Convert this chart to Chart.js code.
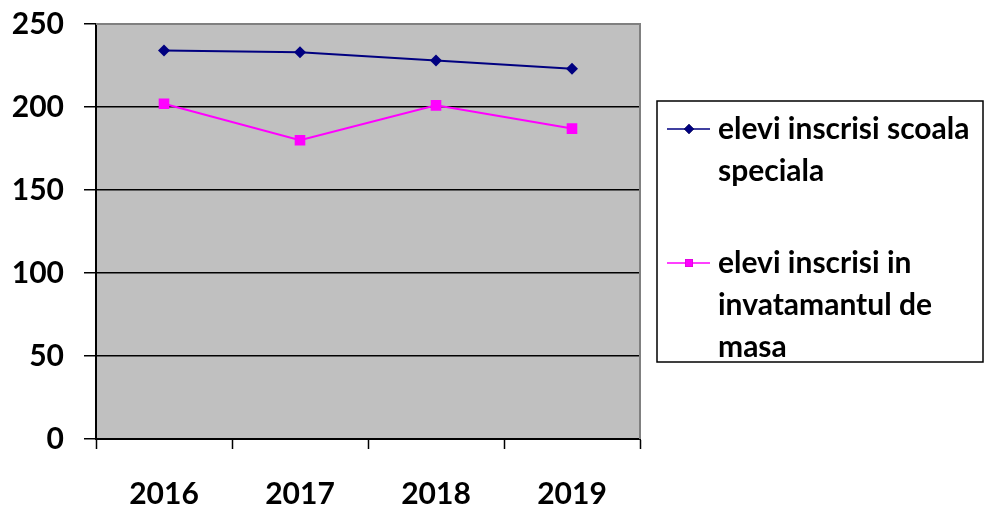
<!DOCTYPE html>
<html>
<head>
<meta charset="utf-8">
<script src="https://cdn.jsdelivr.net/npm/chart.js@4/dist/chart.umd.min.js"></script>
<style>
  html, body { margin: 0; padding: 0; background: #ffffff; }
  #wrap { width: 984px; height: 507px; position: relative; }
</style>
</head>
<body>
<div id="wrap"><canvas id="chart"></canvas></div>
<script>
const years = ['2016', '2017', '2018', '2019'];
const scoalaSpeciala = [234, 233, 228, 223];
const invatamantMasa = [202, 180, 201, 187];
const legendLines = [
    ['elevi inscrisi scoala', 'speciala'],
    ['elevi inscrisi in', 'invatamantul de', 'masa']
];
const yTicks = [0, 50, 100, 150, 200, 250];

const FONT = 'Lato, "Open Sans", sans-serif';

// gray plot background with the gray top/right border
const plotBack = {
    id: 'plotBack',
    beforeDraw(chart) {
        const { ctx, chartArea: a } = chart;
        ctx.save();
        ctx.fillStyle = '#c0c0c0';
        ctx.fillRect(a.left, a.top, a.right - a.left, a.bottom - a.top);
        ctx.restore();
    },
    afterDatasetsDraw(chart) {
        const { ctx, chartArea: a } = chart;
        ctx.save();
        ctx.strokeStyle = '#808080';
        ctx.lineWidth = 2;
        ctx.beginPath();
        ctx.moveTo(a.left, a.top);
        ctx.lineTo(a.right, a.top);
        ctx.lineTo(a.right, a.bottom);
        ctx.stroke();
        ctx.restore();
    }
};

// legend box on the right with wrapped labels
const boxLegend = {
    id: 'boxLegend',
    afterDraw(chart) {
        const { ctx } = chart;
        const x0 = 657, y0 = 101, x1 = 983, y1 = 362;
        ctx.save();
        ctx.fillStyle = '#ffffff';
        ctx.fillRect(x0, y0, x1 - x0, y1 - y0);
        ctx.strokeStyle = '#000000';
        ctx.lineWidth = 1.5;
        ctx.strokeRect(x0, y0, x1 - x0, y1 - y0);

        ctx.font = 'bold 30px ' + FONT;
        ctx.fillStyle = '#000000';
        ctx.textBaseline = 'middle';
        const starts = [129, 263];
        chart.data.datasets.forEach((ds, i) => {
            const y = starts[i];
            ctx.strokeStyle = ds.borderColor;
            ctx.lineWidth = 1.5;
            ctx.beginPath();
            ctx.moveTo(667, y);
            ctx.lineTo(710, y);
            ctx.stroke();
            Chart.helpers.drawPoint(ctx, {
                pointStyle: ds.pointStyle,
                radius: ds.pointStyle === 'rect' ? 5.5 : 5,
                borderWidth: 0
            }, 689, y);
            ctx.fillStyle = ds.borderColor;
            ctx.fill();
            ctx.fillStyle = '#000000';
            legendLines[i].forEach((t, j) => {
                ctx.fillText(t, 718, y + j * 42);
            });
        });
        ctx.restore();
    }
};

new Chart(document.getElementById('chart'), {
    type: 'line',
    data: {
        labels: years,
        datasets: [{
            label: legendLines[0].join(' '),
            data: scoalaSpeciala,
            borderColor: '#000080',
            backgroundColor: '#000080',
            borderWidth: 2,
            pointStyle: 'rectRot',
            pointRadius: 6,
            pointBorderWidth: 0,
            tension: 0
        }, {
            label: legendLines[1].join(' '),
            data: invatamantMasa,
            borderColor: '#ff00ff',
            backgroundColor: '#ff00ff',
            borderWidth: 2,
            pointStyle: 'rect',
            pointRadius: 7.5,
            pointBorderWidth: 0,
            tension: 0
        }]
    },
    options: {
        responsive: true,
        maintainAspectRatio: false,
        animation: false,
        layout: { padding: { top: 24, right: 344, left: 0, bottom: 0 } },
        plugins: {
            legend: { display: false },
            tooltip: { enabled: false }
        },
        scales: {
            x: {
                offset: true,
                grid: {
                    offset: true,
                    drawOnChartArea: false,
                    tickLength: 10,
                    tickColor: '#000000',
                    tickWidth: 1.5
                },
                border: { color: '#000000', width: 2 },
                ticks: {
                    color: '#000000',
                    padding: 27,
                    font: { family: FONT, size: 30, weight: 'bold' }
                },
                afterFit(s) { s.height = 68; s.paddingLeft = 0; s.paddingRight = 0; }
            },
            y: {
                min: 0,
                max: 250,
                afterBuildTicks(s) { s.ticks = yTicks.map(v => ({ value: v })); },
                grid: {
                    color: ctx => ctx.tick && ctx.tick.value === 250 ? 'rgba(0,0,0,0)' : '#000000',
                    lineWidth: 1.5,
                    tickLength: 12,
                    tickColor: '#000000'
                },
                border: { color: '#000000', width: 2 },
                ticks: {
                    color: '#000000',
                    padding: 20,
                    font: { family: FONT, size: 30, weight: 'bold' }
                },
                afterFit(s) { s.width = 96; s.paddingTop = 0; s.paddingBottom = 0; }
            }
        }
    },
    plugins: [plotBack, boxLegend]
});
</script>
</body>
</html>
